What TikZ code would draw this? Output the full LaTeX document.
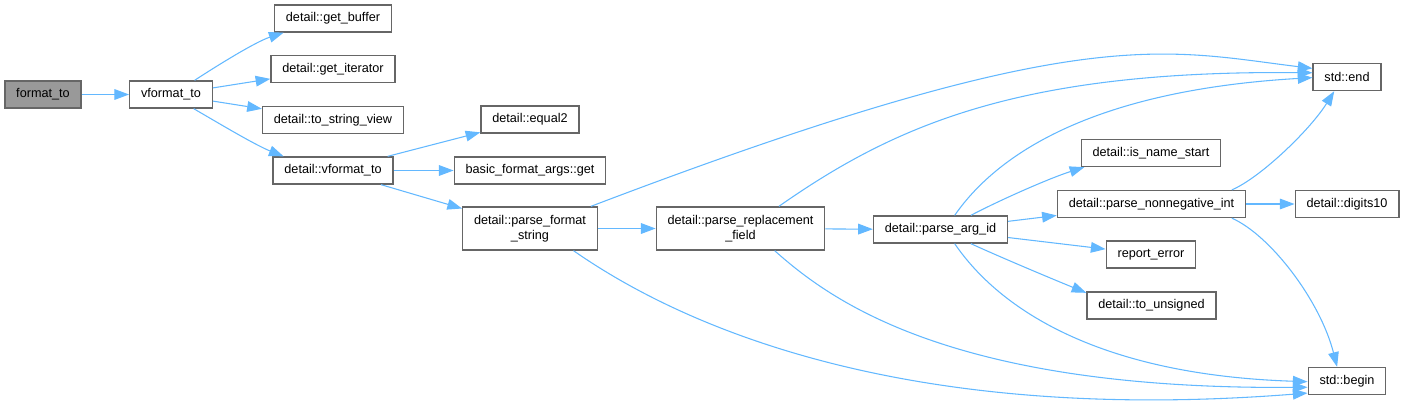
\documentclass[tikz,border=0pt]{standalone}
\usepackage{fontspec}
\setmainfont{Liberation Sans}
\usetikzlibrary{arrows.meta}
\definecolor{callblue}{RGB}{99,184,255}
\definecolor{boxgray}{RGB}{102,102,102}
\definecolor{rootgray}{RGB}{153,153,153}

\begin{document}
\begin{tikzpicture}[x=0.75pt,y=-0.75pt,
                    every node/.style={font=\fontsize{9.5}{11.25}\selectfont},
                    fn/.style={draw=boxgray,line width=1pt,fill=white,
                      inner xsep=8.5pt,inner ysep=0pt,minimum height=20.25pt},
                    fntwo/.style={fn,align=center,minimum height=32.25pt},
                    call/.style={draw=callblue,line width=0.8pt,
                      -{Triangle[length=11pt,width=8pt]}}]
  \useasboundingbox (0,0) rectangle (1405,411);
  \node[fn,fill=rootgray] (fmt) at (43,94.5) {format\_to};
  \node[fn] (vfmt) at (171,94.5) {vformat\_to};
  \node[fn] (getbuf) at (333,18.5) {detail::get\_buffer};
  \node[fn] (getit) at (333,69) {detail::get\_iterator};
  \node[fn] (tosv) at (333,120) {detail::to\_string\_view};
  \node[fn] (dvfmt) at (333,170.5) {detail::vformat\_to};
  \node[fn] (eqtwo) at (530,119.5) {detail::equal2};
  \node[fn] (argget) at (530,170.5) {basic\_format\_args::get};
  \node[fntwo] (pfs) at (530,228.5) {detail::parse\_format\\\_string};
  \node[fntwo] (prf) at (740.5,228.5) {detail::parse\_replacement\\\_field};
  \node[fn] (pai) at (940.5,229.5) {detail::parse\_arg\_id};
  \node[fn] (ins) at (1151,153) {detail::is\_name\_start};
  \node[fn] (pni) at (1151.5,204) {detail::parse\_nonnegative\_int};
  \node[fn] (rep) at (1151,254.5) {report\_error};
  \node[fn] (tun) at (1151.5,305.5) {detail::to\_unsigned};
  \node[fn] (stdend) at (1347,77) {std::end};
  \node[fn] (digits) at (1347,204) {detail::digits10};
  \node[fn] (stdbegin) at (1347,381) {std::begin};

  \draw[call] (fmt) -- (vfmt);
  \draw[call] (vfmt.31) .. controls (215,67) and (255,42) .. (getbuf.196);
  \draw[call] (vfmt) -- (getit);
  \draw[call] (vfmt) -- (tosv);
  \draw[call] (vfmt.328) .. controls (215,121) and (255,145) .. (dvfmt.164);
  \draw[call] (dvfmt) -- (eqtwo);
  \draw[call] (dvfmt) -- (argget);
  \draw[call] (dvfmt) -- (pfs);
  \draw[call] (pfs.20) .. controls (1080,20) and (1162,50) .. (stdend.166);
  \draw[call] (pfs) -- (prf);
  \draw[call] (pfs.333) .. controls (680,325) and (900,425) .. (stdbegin.197);
  \draw[call] (prf.30) .. controls (895,125) and (1020,70) .. (stdend.173);
  \draw[call] (prf) -- (pai);
  \draw[call] (prf.327) .. controls (830,300) and (950,390) .. (stdbegin.189);
  \draw[call] (pai.45) .. controls (1000,150) and (1100,90) .. (stdend.181);
  \draw[call] (pai.25) .. controls (1000,200) and (1050,178) .. (ins.192);
  \draw[call] (pai) -- (pni);
  \draw[call] (pai) -- (rep);
  \draw[call] (pai.335) .. controls (1000,257) and (1050,278) .. (tun.169);
  \draw[call] (pai.315) .. controls (1000,310) and (1100,375) .. (stdbegin.181);
  \draw[call] (pni.10) .. controls (1260,178) and (1310,130) .. (stdend.228);
  \draw[call] (pni) -- (digits);
  \draw[call] (pni.350) .. controls (1270,235) and (1320,300) .. (stdbegin.125);
\end{tikzpicture}
\end{document}
